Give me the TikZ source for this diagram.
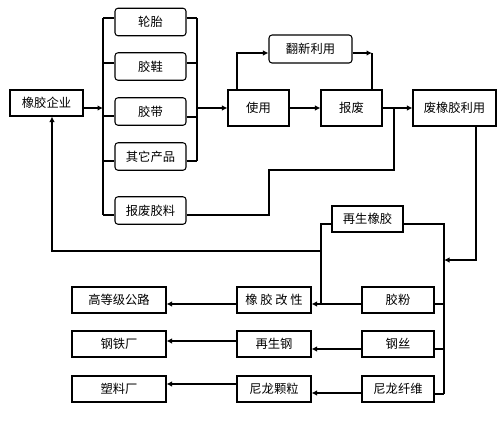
\documentclass[tikz,border=0pt]{standalone}
\usepackage{fontspec}
\setmainfont{Noto Sans CJK SC}
\usetikzlibrary{arrows.meta}

\begin{document}
\begin{tikzpicture}[x=0.02cm,y=-0.02cm,
  font=\fontsize{7}{8}\selectfont,
  box/.style={draw,line width=0.6pt,inner sep=0pt,minimum height=0.52cm},
  rbox/.style={box,rounded corners=0.06cm,minimum width=1.42cm,minimum height=0.55cm},
  bus/.style={line width=0.6pt},
  arr/.style={line width=1pt,-{Latex[length=0.11cm,width=0.11cm]}}]
  \useasboundingbox (0,0) rectangle (500,420);

  % --- enterprise and products ---
  \node[box,minimum width=1.46cm] (qiye) at (46.5,103) {橡胶企业};
  \foreach \n/\y/\t in {luntai/22/轮胎, jiaoxie/66.5/胶鞋, jiaodai/111.5/胶带,
                        qita/156.5/其它产品, feiliao/210.5/报废胶料}
    \node[rbox] (\n) at (150.5,\y) {\t};

  % --- use and scrap ---
  \node[box,minimum width=1.22cm,minimum height=0.72cm] (shiyong) at (258.5,108) {使用};
  \node[box,minimum width=1.22cm,minimum height=0.72cm] (baofei) at (351.5,108) {报废};
  \node[rbox,minimum width=1.66cm,minimum height=0.56cm] (fanxin) at (310.5,49) {翻新利用};
  \node[box,minimum width=1.66cm,minimum height=0.72cm] (feixj) at (454.5,108) {废橡胶利用};

  % --- recycling ---
  \node[box,minimum width=1.42cm] (zaisheng) at (367.5,219) {再生橡胶};
  \foreach \n/\y/\t in {jiaofen/300/胶粉, gangsi/344/钢丝, nilong/389/尼龙纤维}
    \node[box,minimum width=1.44cm] (\n) at (398,\y) {\t};
  \foreach \n/\y/\t in {gaixing/300/橡 胶 改 性, zsgang/344/再生钢, keli/389/尼龙颗粒}
    \node[box,minimum width=1.48cm] (\n) at (274,\y) {\t};
  \foreach \n/\y/\t in {gonglu/300/高等级公路, gangtie/344/钢铁厂, suliao/389/塑料厂}
    \node[box,minimum width=1.88cm] (\n) at (119,\y) {\t};

  % --- product buses ---
  \draw[bus] (103,18) -- (103,215);
  \foreach \n/\y in {luntai/18, jiaoxie/63, jiaodai/116, qita/161, feiliao/215}
    \draw[bus] (103,\y) -- (\n.west |- 0,\y);
  \draw[bus] (197,18) -- (197,161);
  \foreach \n/\y in {luntai/18, jiaoxie/63, jiaodai/117, qita/161}
    \draw[bus] (\n.east |- 0,\y) -- (197,\y);

  % --- main flow ---
  \draw[arr] (qiye.east |- 0,108) -- (103,108);
  \draw[arr] (197,108) -- (shiyong.west);
  \draw[arr] (shiyong.east) -- (baofei.west);
  \draw[arr] (baofei.east) -- (feixj.west);
  \draw[arr] (shiyong.north -| 237,0) |- (fanxin.west |- 0,53);
  \coordinate (fxend) at (372,53);
  \draw[arr] (fanxin.east |- fxend) -- (fxend);
  \draw[bus] (fxend) -- (baofei.north -| fxend);

  % --- scrap material back ---
  \coordinate (split) at (394,108);
  \draw[bus] (split) -- (394,170) -- (269,170) -- (269,215) -- (feiliao.east |- 0,215);

  % --- reclaimed rubber back to enterprise ---
  \draw[bus] (zaisheng.west |- 0,224) -- (321,224) -- (321,304);
  \draw[arr] (321,251) -- (52,251) -- (qiye.south -| 52,0);

  % --- right bus ---
  \draw[bus] (zaisheng.east |- 0,224) -- (444,224) -- (444,394);
  \foreach \n/\y in {jiaofen/304, gangsi/349, nilong/394}
    \draw[bus] (\n.east |- 0,\y) -- (444,\y);
  \draw[arr] (feixj.south -| 476,0) |- (444,260);

  % --- outputs ---
  \draw[arr] (jiaofen.west |- 0,304) -- (gaixing.east |- 0,304);
  \draw[arr] (gangsi.west |- 0,349) -- (zsgang.east |- 0,349);
  \draw[arr] (nilong.west |- 0,393) -- (keli.east |- 0,393);
  \draw[arr] (gaixing.west |- 0,304) -- (gonglu.east |- 0,304);
  \draw[arr] (zsgang.west |- 0,341) -- (gangtie.east |- 0,341);
  \draw[arr] (keli.west |- 0,384) -- (suliao.east |- 0,384);
\end{tikzpicture}
\end{document}
